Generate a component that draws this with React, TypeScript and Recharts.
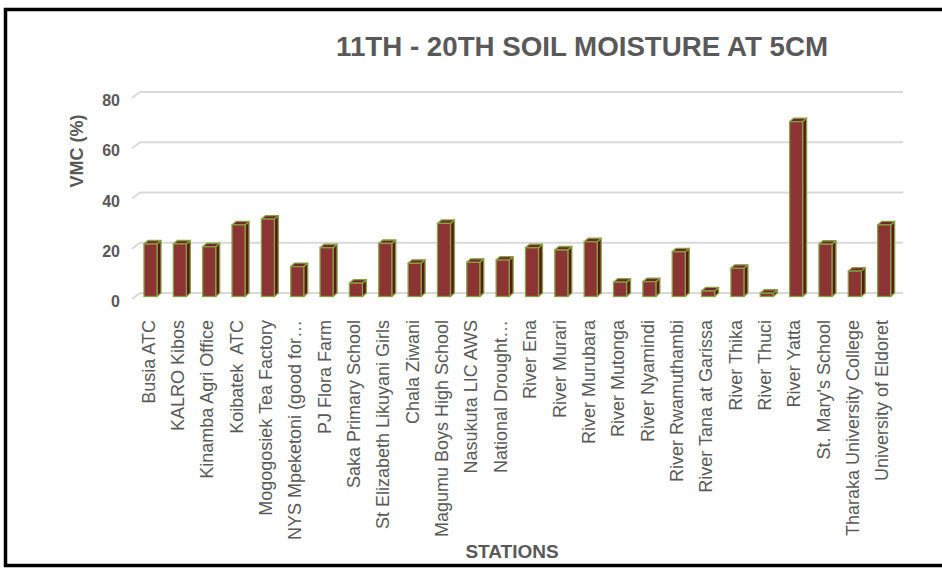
import React from 'react';
import { BarChart, Bar, XAxis, YAxis, CartesianGrid } from 'recharts';

const stations = [
  'Busia ATC',
  'KALRO Kibos',
  'Kinamba Agri Office',
  'Koibatek  ATC',
  'Mogogosiek Tea Factory',
  'NYS Mpeketoni (good for…',
  'PJ Flora Farm',
  'Saka Primary School',
  'St Elizabeth Likuyani Girls',
  'Chala Ziwani',
  'Magumu Boys High School',
  'Nasukuta LIC AWS',
  'National Drought…',
  'River Ena',
  'River Murari',
  'River Murubara',
  'River Mutonga',
  'River Nyamindi',
  'River Rwamuthambi',
  'River Tana at Garissa',
  'River Thika',
  'River Thuci',
  'River Yatta',
  "St. Mary's School",
  'Tharaka University College',
  'University of Eldoret',
];

const vmc = [
  20.9, 20.9, 19.8, 28.5, 30.8, 11.9, 19.4, 5.3, 21.1, 13.2, 29.1, 13.6, 14.5,
  19.4, 18.5, 21.8, 5.7, 5.9, 17.8, 2.2, 11.2, 1.3, 69.6, 20.8, 10.1, 28.5,
];

const yTicks = [0, 20, 40, 60, 80];

const data = stations.map((s, i) => ({ station: s, vmc: vmc[i] }));

const FONT = '"Liberation Sans", Arial, sans-serif';
const TXT = '#595959';

const Bar3D = (props: any) => {
  const { x, y, width, height } = props;
  if (width == null || height == null) return null;
  const dx = 4;
  const dy = 3.5;
  const fx = x - dx;
  const fy = y + dy;
  const stroke = '#86a043';
  const sw = 1.3;
  return (
    <g>
      <polygon
        points={`${fx + width},${fy} ${x + width},${y} ${x + width},${y + height} ${fx + width},${fy + height}`}
        fill="#5a1b1b"
        stroke={stroke}
        strokeWidth={sw}
        strokeLinejoin="round"
      />
      <polygon
        points={`${fx},${fy} ${x},${y} ${x + width},${y} ${fx + width},${fy}`}
        fill="#6e2a24"
        stroke={stroke}
        strokeWidth={sw}
        strokeLinejoin="round"
      />
      <rect
        x={fx}
        y={fy}
        width={width}
        height={Math.max(height, 0)}
        fill="#8c3333"
        stroke={stroke}
        strokeWidth={sw}
      />
    </g>
  );
};

const GridLine = (p: any) => {
  const { x1, y1, x2, y2 } = p;
  return (
    <g key={`gl-${y1}`}>
      <line x1={x1 - 8} y1={y1 + 6} x2={x1} y2={y1} stroke="#d9d9d9" strokeWidth={2} />
      <line x1={x1} y1={y1} x2={x2} y2={y2} stroke="#d9d9d9" strokeWidth={2} />
    </g>
  );
};

const YTick = (p: any) => {
  const { y, payload } = p;
  return (
    <text x={120} y={y + 14} textAnchor="end" fontFamily={FONT} fontWeight="bold" fontSize={16} fill={TXT}>
      {payload.value}
    </text>
  );
};

const XTick = (p: any) => {
  const { x, payload } = p;
  return (
    <text
      transform={`translate(${x},320) rotate(-90)`}
      textAnchor="end"
      fontFamily={FONT}
      fontSize={18}
      fill={TXT}
      style={{ whiteSpace: 'pre' }}
    >
      {payload.value}
    </text>
  );
};

export default function App() {
  return (
    <div style={{ position: 'absolute', left: 0, top: 0, width: 942, height: 569, background: '#fff' }}>
      <BarChart
        width={942}
        height={569}
        data={data}
        margin={{ top: 92, right: 39, left: 80, bottom: 26 }}
        barSize={13}
      >
        <CartesianGrid vertical={false} horizontal={GridLine} />
        <XAxis
          dataKey="station"
          interval={0}
          height={250}
          axisLine={false}
          tickLine={false}
          tick={XTick}
        />
        <YAxis
          width={60}
          domain={[0, 80]}
          ticks={yTicks}
          axisLine={false}
          tickLine={false}
          tick={YTick}
        />
        <Bar dataKey="vmc" shape={Bar3D} isAnimationActive={false} />
      </BarChart>
      <svg
        width={942}
        height={569}
        style={{ position: 'absolute', left: 0, top: 0, pointerEvents: 'none' }}
      >
        <rect x={5.5} y={9.5} width={960} height={556} fill="none" stroke="#000" strokeWidth={3.5} />
        <text
          x={336}
          y={56}
          textLength={492}
          lengthAdjust="spacingAndGlyphs"
          fontFamily={FONT}
          fontWeight="bold"
          fontSize={27}
          fill={TXT}
        >
          11TH - 20TH SOIL MOISTURE AT 5CM
        </text>
        <text
          transform="translate(83,151) rotate(-90)"
          textAnchor="middle"
          fontFamily={FONT}
          fontWeight="bold"
          fontSize={18}
          fill={TXT}
        >
          VMC (%)
        </text>
        <text
          x={512}
          y={558}
          textAnchor="middle"
          fontFamily={FONT}
          fontWeight="bold"
          fontSize={19}
          fill={TXT}
        >
          STATIONS
        </text>
      </svg>
    </div>
  );
}
